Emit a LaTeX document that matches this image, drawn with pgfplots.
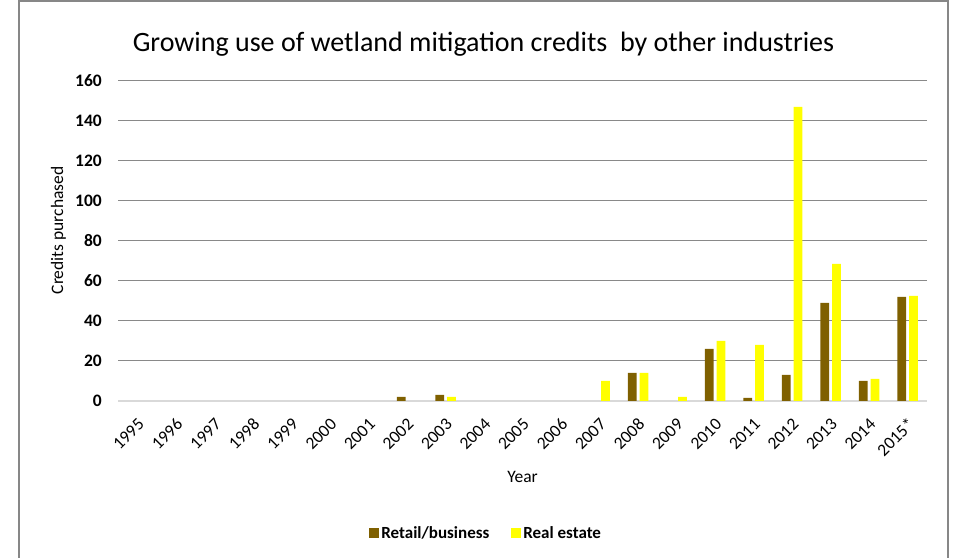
\documentclass[border=0pt]{standalone}
\usepackage{pgfplots}
\pgfplotsset{compat=1.18}
\usepackage{fontspec}
\setmainfont{Carlito}

\definecolor{retail}{HTML}{7F6000}
\definecolor{realest}{HTML}{FFFF00}
\definecolor{gridc}{HTML}{898989}
\definecolor{zeroc}{HTML}{D9D9D9}
\definecolor{framec}{HTML}{878787}

\begin{document}
\begin{tikzpicture}
\path[use as bounding box] (0,0) rectangle (953bp,558bp);
\begin{axis}[
    at={(118.3bp,157bp)}, anchor=south west,
    scale only axis,
    width=808.5bp, height=320bp,
    ybar=3bp, bar width=8.7bp,
    xmin=-0.5, xmax=20.5,
    ymin=0, ymax=160,
    xtick={0,...,20},
    xticklabels={1995,1996,1997,1998,1999,2000,2001,2002,2003,2004,2005,2006,2007,2008,2009,2010,2011,2012,2013,2014,2015*},
    ytick={20,40,...,160},
    extra y ticks={0},
    extra y tick style={grid style={color=zeroc, line width=1.2bp}},
    ymajorgrids,
    grid style={color=gridc, line width=1bp},
    axis line style={draw=none},
    major tick length=0pt,
    /pgf/number format/assume math mode=true,
    yticklabel style={font=\fontsize{17.5bp}{20bp}\selectfont\bfseries, xshift=-13bp},
    xticklabel style={font=\fontsize{17.5bp}{20bp}\selectfont, xshift=6bp, yshift=-18bp, rotate=45, anchor=east},
    title={Growing use of wetland mitigation credits\ \ by other industries},
    title style={font=\fontsize{28bp}{32bp}\selectfont, at={(axis description cs:0.4517,1.097)}, anchor=center},
    xlabel={Year},
    xlabel style={font=\fontsize{17.5bp}{20bp}\selectfont, at={(axis description cs:0.5,-0.2375)}, anchor=center},
    ylabel={Credits purchased},
    ylabel style={font=\fontsize{17.5bp}{20bp}\selectfont, at={(axis description cs:-0.074,0.533)}, anchor=center},
    legend columns=2,
    legend style={draw=none, fill=none, at={(axis description cs:0.455,-0.4125)}, anchor=center,
        font=\fontsize{17bp}{20bp}\selectfont\bfseries,
        /tikz/every even column/.append style={column sep=20bp}},
    legend image code/.code={\fill[#1] (0bp,-5bp) rectangle (10bp,5bp);},
]
\addplot[fill=retail, draw=none] coordinates {
    (0,0) (1,0) (2,0) (3,0) (4,0) (5,0) (6,0) (7,2) (8,3) (9,0) (10,0)
    (11,0) (12,0) (13,14) (14,0) (15,26) (16,1.5) (17,13) (18,49) (19,10) (20,52)};
\addplot[fill=realest, draw=none] coordinates {
    (0,0) (1,0) (2,0) (3,0) (4,0) (5,0) (6,0) (7,0) (8,2) (9,0) (10,0)
    (11,0) (12,10) (13,14) (14,2) (15,30) (16,28) (17,147) (18,68.5) (19,11) (20,52.5)};
\legend{Retail/business, Real estate}
\end{axis}
\draw[framec, line width=1.5bp] (19bp,-5bp) -- (19bp,557bp) -- (948bp,557bp) -- (948bp,-5bp);
\end{tikzpicture}
\end{document}
